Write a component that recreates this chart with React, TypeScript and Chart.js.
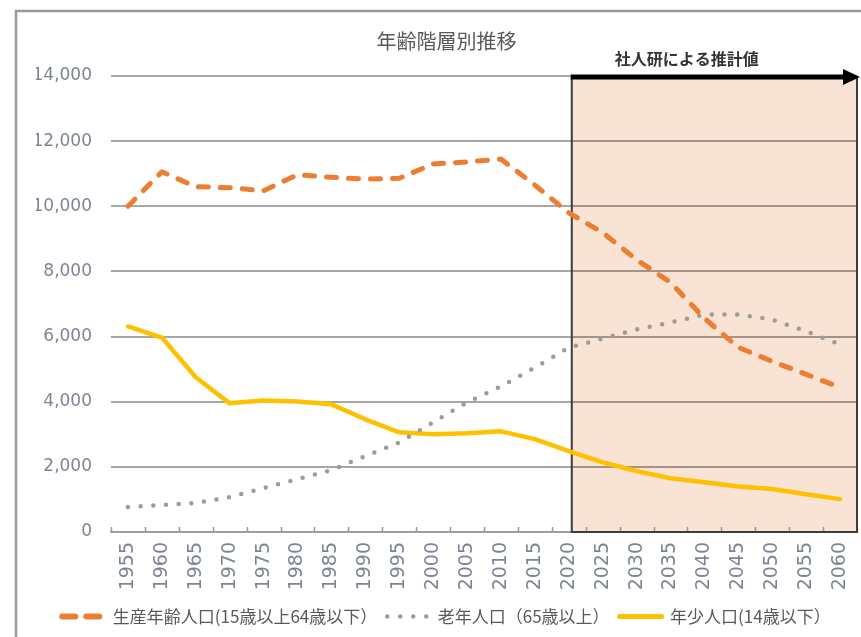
import { useEffect, useRef } from "react";
import { Chart, registerables } from "chart.js";

Chart.register(...registerables);

const years = [
  "1955", "1960", "1965", "1970", "1975", "1980", "1985", "1990", "1995", "2000", "2005",
  "2010", "2015", "2020", "2025", "2030", "2035", "2040", "2045", "2050", "2055", "2060",
];

const workingAge = [
  10000, 11060, 10600, 10570, 10480, 10970, 10890, 10830, 10860, 11300, 11360,
  11450, 10650, 9800, 9190, 8360, 7660, 6560, 5670, 5240, 4840, 4440,
];

const elderly = [
  770, 830, 890, 1070, 1350, 1620, 1900, 2330, 2750, 3370, 3980,
  4470, 5050, 5660, 5940, 6220, 6430, 6680, 6680, 6520, 6160, 5760,
];

const youth = [
  6310, 5970, 4750, 3950, 4040, 4010, 3920, 3460, 3060, 3000, 3030,
  3090, 2850, 2480, 2140, 1870, 1650, 1530, 1400, 1320, 1160, 1010,
];

const seriesLabels = [
  "生産年齢人口(15歳以上64歳以下）",
  "老年人口（65歳以上）",
  "年少人口(14歳以下）",
];

const chartTitle = "年齢階層別推移";
const forecastLabel = "社人研による推計値";
const forecastStart = "2020";

const JP = '"Noto Sans CJK JP", "Noto Sans", sans-serif';
const NUM = '"DejaVu Sans", sans-serif';

const legendDash = [[13, 11], [0, 13], []];
const legendWidth = [6, 4.5, 5];

const overlayPlugin = {
  id: "overlay",
  beforeDraw(chart: any) {
    const ctx = chart.ctx;
    ctx.save();
    ctx.strokeStyle = "#9a9a9a";
    ctx.lineWidth = 2.5;
    ctx.beginPath();
    ctx.moveTo(16, chart.height);
    ctx.lineTo(16, 11);
    ctx.lineTo(chart.width, 11);
    ctx.stroke();
    ctx.restore();
  },
  beforeDatasetsDraw(chart: any) {
    const { ctx, chartArea } = chart;
    const { top, bottom, left, right } = chartArea;
    const xs = chart.scales.x;
    const x0 = xs.getPixelForValue(years.indexOf(forecastStart)) + 3;

    ctx.save();
    ctx.globalCompositeOperation = "multiply";
    ctx.fillStyle = "#F9E3D4";
    ctx.fillRect(x0, top, right - x0, bottom - top);
    ctx.restore();

    // tick marks (inward)
    ctx.save();
    ctx.strokeStyle = "#999999";
    ctx.lineWidth = 1.5;
    ctx.beginPath();
    for (let i = 0; i <= years.length; i++) {
      const px = Math.round(xs.getPixelForValue(i - 0.5)) + 0.5;
      if (px < left - 1 || px > right + 1) continue;
      ctx.moveTo(px, bottom);
      ctx.lineTo(px, bottom - 5);
    }
    ctx.stroke();
    ctx.restore();

    // box border
    ctx.save();
    ctx.strokeStyle = "#3c3c3c";
    ctx.lineWidth = 2;
    ctx.beginPath();
    ctx.moveTo(x0, top);
    ctx.lineTo(x0, bottom);
    ctx.lineTo(right, bottom);
    ctx.lineTo(right, top);
    ctx.stroke();
    ctx.restore();
  },
  afterDatasetsDraw(chart: any) {
    const { ctx, chartArea } = chart;
    const { top, right } = chartArea;
    const xs = chart.scales.x;
    const x0 = xs.getPixelForValue(years.indexOf(forecastStart)) + 3;
    const ay = top + 1;
    ctx.save();
    ctx.strokeStyle = "#000";
    ctx.fillStyle = "#000";
    ctx.lineWidth = 5;
    ctx.beginPath();
    ctx.moveTo(x0 - 1, ay);
    ctx.lineTo(right - 10, ay);
    ctx.stroke();
    ctx.beginPath();
    ctx.moveTo(right - 14, ay - 8);
    ctx.lineTo(right + 3, ay);
    ctx.lineTo(right - 14, ay + 8);
    ctx.closePath();
    ctx.fill();
    ctx.font = `bold 16px ${JP}`;
    ctx.fillStyle = "#333";
    ctx.textAlign = "center";
    ctx.textBaseline = "middle";
    ctx.fillText(forecastLabel, x0 + 115, top - 17);
    ctx.restore();
  },
};

export default function App() {
  const ref = useRef<HTMLCanvasElement>(null);

  useEffect(() => {
    const chart = new Chart(ref.current as HTMLCanvasElement, {
      type: "line",
      data: {
        labels: years,
        datasets: [
          {
            label: seriesLabels[0],
            data: workingAge,
            borderColor: "#ED7D31",
            backgroundColor: "#ED7D31",
            borderWidth: 5,
            borderDash: [10, 12],
            borderCapStyle: "round",
            borderJoinStyle: "round",
            pointRadius: 0,
            tension: 0,
            fill: false,
          },
          {
            label: seriesLabels[1],
            data: elderly,
            borderColor: "#9c9c9c",
            backgroundColor: "#9c9c9c",
            borderWidth: 4.5,
            borderDash: [0, 12.7],
            borderCapStyle: "round",
            borderJoinStyle: "round",
            pointRadius: 0,
            tension: 0,
            fill: false,
          },
          {
            label: seriesLabels[2],
            data: youth,
            borderColor: "#FFC000",
            backgroundColor: "#FFC000",
            borderWidth: 4.5,
            borderCapStyle: "round",
            borderJoinStyle: "round",
            pointRadius: 0,
            tension: 0,
            fill: false,
          },
        ],
      },
      options: {
        responsive: false,
        animation: false,
        layout: { padding: { left: 36, right: 4, top: 11, bottom: 2 } },
        plugins: {
          title: {
            display: true,
            text: chartTitle,
            color: "#595959",
            font: { family: JP, size: 20, weight: "normal" },
            padding: { top: 18, bottom: 23 },
          },
          legend: {
            position: "bottom",
            labels: {
              usePointStyle: true,
              pointStyle: "line",
              pointStyleWidth: 42,
              color: "#595959",
              font: { family: JP, size: 17 },
              padding: 10,
              generateLabels: (c: any) => {
                const items = (Chart.defaults as any).plugins.legend.labels.generateLabels(c);
                return items.map((it: any, i: number) => ({
                  ...it,
                  lineDash: legendDash[i],
                  lineWidth: legendWidth[i],
                  lineCap: "round",
                  strokeStyle: c.data.datasets[i].borderColor,
                  fillStyle: c.data.datasets[i].borderColor,
                  pointStyle: "line",
                }));
              },
            },
          },
          tooltip: { enabled: false },
        },
        scales: {
          x: {
            offset: true,
            grid: { display: false, drawTicks: false },
            border: { display: true, color: "#999999", width: 1.5 },
            ticks: {
              autoSkip: false,
              minRotation: 90,
              maxRotation: 90,
              padding: 10,
              color: "#7d8594",
              font: { family: NUM, size: 19 },
            },
            afterFit: (s: any) => {
              s.height = 66;
              s.paddingLeft = 0;
              s.paddingRight = 0;
            },
          },
          y: {
            min: 0,
            max: 14000,
            ticks: {
              stepSize: 2000,
              padding: 19,
              color: "#7d8594",
              font: { family: NUM, size: 17 },
            },
            grid: { color: "#a6a6a6", lineWidth: 2, drawTicks: false },
            border: { display: false },
            afterFit: (s: any) => {
              s.width = 75;
              s.paddingTop = 0;
              s.paddingBottom = 0;
            },
          },
        },
      } as any,
      plugins: [overlayPlugin],
    });
    return () => chart.destroy();
  }, []);

  return (
    <div
      style={{
        position: "fixed",
        left: 0,
        top: 0,
        width: 861,
        height: 637,
        background: "#fff",
        overflow: "hidden",
      }}
    >
      <canvas ref={ref} width={861} height={637} style={{ display: "block" }} />
    </div>
  );
}
